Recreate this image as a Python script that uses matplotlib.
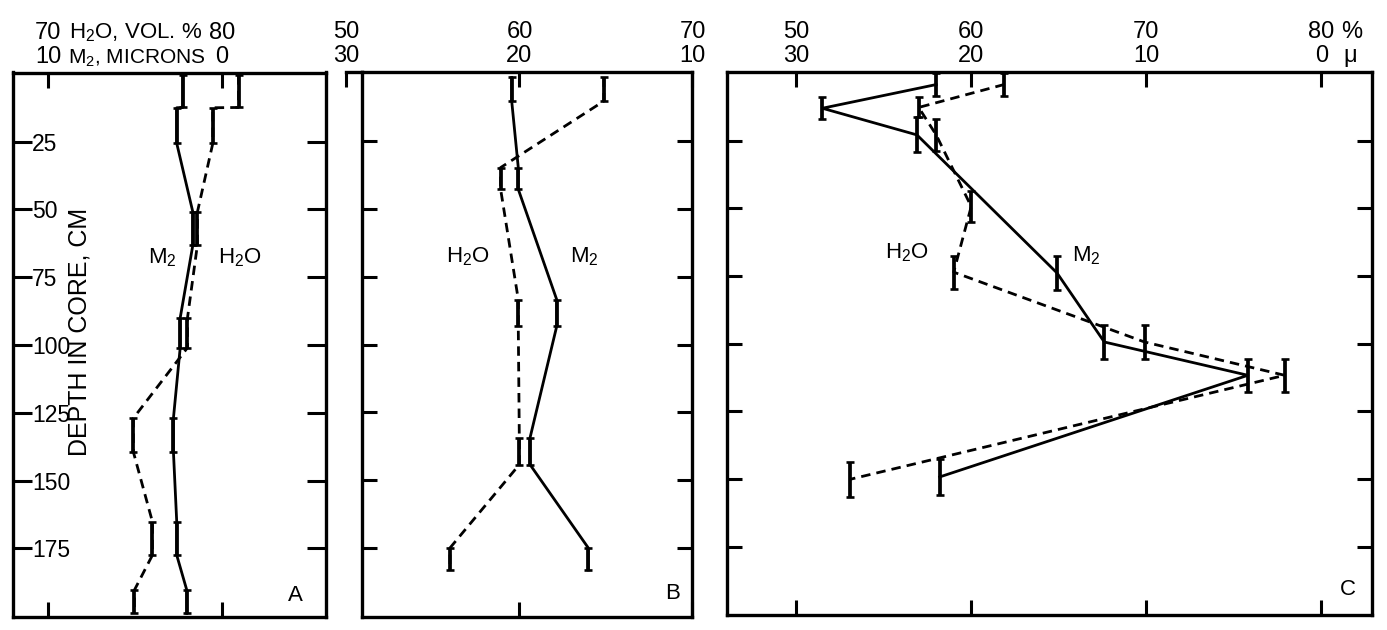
import matplotlib
matplotlib.use('Agg')
import matplotlib.pyplot as plt
import matplotlib.transforms as mtransforms

plt.rcParams['font.family'] = ['Liberation Sans', 'DejaVu Sans']
plt.rcParams['mathtext.default'] = 'regular'

# ------------------------------------------------------------------ data
DEPTH_TICKS = [25, 50, 75, 100, 125, 150, 175]
DEPTH_LIM = (200.2, -0.5)

# Panel A  (sample depth intervals, cm)
A_TOP = [0.5, 12.5, 51.0, 90.0, 127.0, 165.2, 190.4]
A_BOT = [12.4, 25.6, 63.1, 101.0, 139.4, 177.5, 199.0]
A_H2O = [80.96, 79.48, 78.59, 78.02, 74.90, 76.00, 74.96]     # vol. %
A_M2 = [2.25, 2.60, 1.67, 2.40, 2.79, 2.60, 2.02]              # microns
A_H2O_TICKS = [70, 80]
A_M2_TICKS = [10, 0]

# Panel B
B_TOP = [1.6, 34.8, 83.4, 134.3, 174.9]
B_BOT = [10.3, 42.8, 93.3, 144.2, 183.0]
B_H2O = [64.88, 58.91, 59.93, 59.99, 55.98]
B_M2 = [20.45, 20.07, 17.85, 19.39, 16.02]
B_H2O_TICKS = [50, 60, 70]
B_M2_TICKS = [30, 20, 10]

# Panel C
C_M2_TOP = [0.0, 9.0, 16.4, 67.4, 93.2, 105.5, 142.4]
C_M2_BOT = [8.5, 17.0, 29.3, 80.3, 105.5, 117.8, 156.0]
C_M2 = [22.0, 28.5, 23.1, 15.1, 12.4, 4.2, 21.8]
C_H2O_TOP = [0.0, 9.0, 17.0, 43.5, 67.4, 93.2, 105.5, 143.6]
C_H2O_BOT = [8.4, 16.4, 28.7, 55.1, 79.7, 105.5, 117.8, 156.5]
C_H2O = [61.9, 57.0, 58.0, 60.0, 59.0, 69.9, 77.9, 53.1]
C_H2O_TICKS = [50, 60, 70, 80]
C_M2_TICKS = [30, 20, 10, 0]

# H2O value + M2 value that share a position on the paired top scales
PAIR_SUM = A_H2O_TICKS[0] + A_M2_TICKS[0]

FS = 17        # numbers
LW_AX = 2.4
TICK_LEN = 11

fig = plt.figure(figsize=(13.87, 6.30), dpi=100)
W, H = 1387.0, 630.0


def add_axes(left, right, top, bottom):
    return fig.add_axes([left / W, 1 - bottom / H, (right - left) / W, (bottom - top) / H])


def make_panel(box, xlim, xticks):
    ax = add_axes(*box)
    inside = [t for t in xticks if min(xlim) <= t <= max(xlim)]
    ax.set_xticks(inside)
    ax.set_yticks(DEPTH_TICKS)
    ax.set_xlim(*xlim)
    ax.set_ylim(*DEPTH_LIM)
    axm = ax.twiny()
    axm.set_xlim(PAIR_SUM - xlim[0], PAIR_SUM - xlim[1])
    axm.set_ylim(*DEPTH_LIM)
    axm.set_axis_off()
    for s in ax.spines.values():
        s.set_linewidth(LW_AX)
    ax.tick_params(axis='both', which='both', direction='in', length=TICK_LEN,
                   width=2.2, top=True, bottom=True, left=True, right=True,
                   labeltop=False, labelbottom=False, labelleft=False, labelright=False)
    ax.set_xlim(*xlim)
    return ax, axm


def draw_series(ax, xs, tops, bots, dashed, mode):
    mids = [(t + b) / 2 for t, b in zip(tops, bots)]
    if mode == 'ends':
        px, py = [], []
        for x, t, b in zip(xs, tops, bots):
            px += [x, x]
            py += [t, b]
    else:
        px, py = xs, mids
    ls = (0, (3.4, 2.2)) if dashed else '-'
    ax.plot(px, py, color='black', lw=2.0, linestyle=ls, zorder=2, clip_on=False)
    ax.errorbar(xs, mids,
                yerr=[[m - t for m, t in zip(mids, tops)], [b - m for m, b in zip(mids, bots)]],
                fmt='none', ecolor='black', elinewidth=2.7, capsize=3.2, capthick=1.9,
                zorder=3, clip_on=False)


Y1, Y2 = 1.062, 1.017


def top_labels(ax, axm, h2o_ticks, m2_ticks):
    t1 = mtransforms.blended_transform_factory(ax.transData, ax.transAxes)
    t2 = mtransforms.blended_transform_factory(axm.transData, ax.transAxes)
    for v in h2o_ticks:
        ax.text(v, Y1, str(v), transform=t1, ha='center', va='baseline', fontsize=FS, clip_on=False)
    for v in m2_ticks:
        ax.text(v, Y2, str(v), transform=t2, ha='center', va='baseline', fontsize=FS, clip_on=False)


# ------------------------------------------------------------------ panel A
axA, axA_m = make_panel((12.7, 326.0, 72.5, 616.7), (67.95, 86.0), A_H2O_TICKS)
axA.tick_params(axis='y', which='major', labelleft=True, pad=-14.0, labelsize=16.5,
                length=13.5)
axA.set_yticklabels([str(d) for d in DEPTH_TICKS])
for lab in axA.get_yticklabels():
    lab.set_horizontalalignment('left')
draw_series(axA_m, A_M2, A_TOP, A_BOT, False, 'ends')
draw_series(axA, A_H2O, A_TOP, A_BOT, True, 'ends')
top_labels(axA, axA_m, A_H2O_TICKS, A_M2_TICKS)
tA = mtransforms.blended_transform_factory(axA.transData, axA.transAxes)
axA.text(75.0, Y1, r'H$_2$O, VOL. %', transform=tA, ha='center', va='baseline', fontsize=16)
axA.text(75.1, Y2, r'M$_2$, MICRONS', transform=tA, ha='center', va='baseline', fontsize=15)
axA.text(76.56, 67.9, r'M$_2$', ha='center', va='center', fontsize=16)
axA.text(81.06, 67.9, r'H$_2$O', ha='center', va='center', fontsize=16)
axA.text(0.901, 0.02, 'A', transform=axA.transAxes, ha='center', va='bottom', fontsize=16)

# ------------------------------------------------------------------ panel B
# frame starts a little to the right of the 50 % position; the top rule reaches back to it
axB, axB_m = make_panel((361.7, 692.5, 71.7, 616.7), (50.88, 70.0), B_H2O_TICKS)
draw_series(axB_m, B_M2, B_TOP, B_BOT, False, 'ends')
draw_series(axB, B_H2O, B_TOP, B_BOT, True, 'ends')
top_labels(axB, axB_m, B_H2O_TICKS, B_M2_TICKS)
x_first = B_H2O_TICKS[0]
x_edge = axB.get_xlim()[0]
axB.plot([x_first, x_edge], [DEPTH_LIM[1], DEPTH_LIM[1]], color='black', lw=LW_AX,
         solid_capstyle='projecting', clip_on=False, zorder=4)
axB.plot([x_first, x_first], [DEPTH_LIM[1], DEPTH_LIM[1] + 5.6], color='black', lw=2.2,
         solid_capstyle='butt', clip_on=False, zorder=4)
axB.set_xlim(50.88, 70.0)
axB.text(57.02, 67.5, r'H$_2$O', ha='center', va='center', fontsize=16)
axB.text(63.73, 67.5, r'M$_2$', ha='center', va='center', fontsize=16)
axB.text(0.94, 0.024, 'B', transform=axB.transAxes, ha='center', va='bottom', fontsize=16)

# ------------------------------------------------------------------ panel C
axC, axC_m = make_panel((727.3, 1371.5, 71.7, 615.0), (46.07, 82.86), C_H2O_TICKS)
draw_series(axC_m, C_M2, C_M2_TOP, C_M2_BOT, False, 'mid')
draw_series(axC, C_H2O, C_H2O_TOP, C_H2O_BOT, True, 'mid')
top_labels(axC, axC_m, C_H2O_TICKS, C_M2_TICKS)
tC = mtransforms.blended_transform_factory(axC.transData, axC.transAxes)
axC.text(81.72, Y1, '%', transform=tC, ha='center', va='baseline', fontsize=FS)
axC.text(81.65, Y2, 'μ', transform=tC, ha='center', va='baseline', fontsize=FS)
axC.text(56.35, 66.4, r'H$_2$O', ha='center', va='center', fontsize=16)
axC.text(66.6, 67.5, r'M$_2$', ha='center', va='center', fontsize=16)
axC.text(0.964, 0.028, 'C', transform=axC.transAxes, ha='center', va='bottom', fontsize=16)

fig.text(79.0 / W, 1 - 331.7 / H, 'DEPTH IN CORE, CM', rotation=90,
         ha='center', va='center', fontsize=18)

fig.savefig('out.png', dpi=100, facecolor='white')
